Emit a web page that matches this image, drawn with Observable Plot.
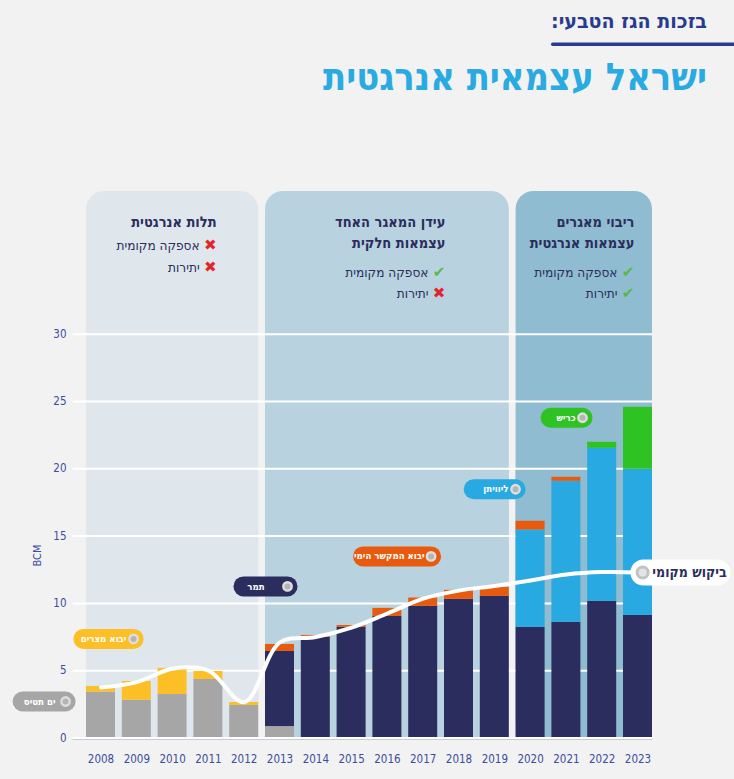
<!DOCTYPE html>
<html lang="he">
<head>
<meta charset="utf-8">
<script src="https://cdn.jsdelivr.net/npm/d3@7"></script>
<script src="https://cdn.jsdelivr.net/npm/@observablehq/plot@0.6"></script>
<style>
  html, body { margin: 0; padding: 0; background: #f2f2f2; }
  #page { width: 734px; height: 779px; position: relative; overflow: hidden; background: #f2f2f2; }
  #header { display: block; }
  #chart svg { display: block; overflow: visible; }
  g[aria-label="pill"] path { filter: drop-shadow(0 1.5px 1.5px rgba(0,0,0,0.28)); }
  g[aria-label="demand pill"] path { filter: drop-shadow(0 1.5px 3px rgba(0,0,0,0.3)); }
</style>
</head>
<body>
<div id="page">
  <svg id="header" width="734" height="110">
    <text x="707" y="28" direction="rtl" text-anchor="start" fill="#283b8f" font-size="20" font-weight="bold"
          font-family="'DejaVu Sans Condensed','DejaVu Sans',sans-serif"
          textLength="156" lengthAdjust="spacingAndGlyphs">בזכות הגז הטבעי:</text>
    <rect x="551" y="42.5" width="190" height="3.5" rx="1.75" fill="#283b8f"></rect>
    <text x="707" y="90" direction="rtl" text-anchor="start" fill="#29abe2" font-size="38" font-weight="bold"
          font-family="'DejaVu Sans Condensed','DejaVu Sans',sans-serif"
          textLength="384" lengthAdjust="spacingAndGlyphs">ישראל עצמאית אנרגטית</text>
  </svg>
  <div id="chart"></div>
</div>
<script>
// Natural gas supply to the local market by source, BCM per year
const years = [2008, 2009, 2010, 2011, 2012, 2013, 2014, 2015, 2016, 2017, 2018, 2019, 2020, 2021, 2022, 2023];
const yamTethys   = [3.41, 2.81, 3.23, 4.35, 2.42, 0.85, 0, 0, 0, 0, 0, 0, 0, 0, 0, 0];
const tamar       = [0, 0, 0, 0, 0, 5.58, 7.47, 8.22, 9.03, 9.78, 10.30, 10.52, 8.22, 8.59, 10.15, 9.11];
const leviathan   = [0, 0, 0, 0, 0, 0, 0, 0, 0, 0, 0, 0, 7.23, 10.48, 11.37, 10.85];
const egyptImport = [0.42, 1.39, 1.94, 0.59, 0.22, 0, 0, 0, 0, 0, 0, 0, 0, 0, 0, 0];
const lngImport   = [0, 0, 0, 0, 0, 0.52, 0.15, 0.14, 0.60, 0.62, 0.67, 0.67, 0.65, 0.30, 0, 0];
const karish      = [0, 0, 0, 0, 0, 0, 0, 0, 0, 0, 0, 0, 0, 0, 0.45, 4.61];
// Local demand
const demand      = [3.75, 4.15, 5.15, 5.00, 2.66, 7.10, 7.50, 8.20, 9.25, 10.35, 10.95, 11.30, 11.70, 12.15, 12.33, 12.30];

const seriesNames  = ["ים תטיס", "תמר", "ליוויתן", "יבוא מצרים", "יבוא המקשר הימי", "כריש"];
const seriesValues = [yamTethys, tamar, leviathan, egyptImport, lngImport, karish];
const seriesColors = ["#a6a6a6", "#2c2d5f", "#29a9e1", "#fcbf26", "#e85a0e", "#2fc223"];
const demandLabel  = "ביקוש מקומי";
const yTicks = [0, 5, 10, 15, 20, 25, 30];

// Three eras of the gas market
const eraFrom   = [2008, 2013, 2020];
const eraTo     = [2013, 2020, 2024];
const eraTitles = [["תלות אנרגטית"], ["עידן המאגר האחד", "עצמאות חלקית"], ["ריבוי מאגרים", "עצמאות אנרגטית"]];
const eraSupply = [false, true, true];   // אספקה מקומית
const eraBackup = [false, false, true];  // יתירות

// ---- tidy rows for the library ----
const rows = [];
seriesValues.forEach((vals, s) => vals.forEach((v, i) => {
  if (v > 0) rows.push({year: years[i], series: seriesNames[s], value: v});
}));
const demandRows = years.map((year, i) => ({year, value: demand[i]}));

// ---- layout ----
const FONT = "'Liberation Sans Narrow','DejaVu Sans Condensed','DejaVu Sans',sans-serif";
const NAVY = "#2b2d5c";
const AXIS = "#3a4d9f";
const eraFill = ["#dfe7ed", "#b8d3df", "#8fbcd0"];
const eraTextX = [2011.73, 2018.12, 2023.40];
const TOP = 40.6;

// series tags placed next to their bars
const pills = [
  {series: "ים תטיס",          x1: 2006.31, x2: 2007.51, tx: 2007.23, y: 2.71},
  {series: "יבוא מצרים",       x1: 2008.01, x2: 2009.41, tx: 2009.21, y: 7.36},
  {series: "תמר",              x1: 2012.48, x2: 2013.71, tx: 2013.07, y: 11.26},
  {series: "יבוא המקשר הימי",  x1: 2015.82, x2: 2017.72, tx: 2017.54, y: 13.49},
  {series: "ליוויתן",          x1: 2018.91, x2: 2020.08, tx: 2019.88, y: 18.48},
  {series: "כריש",             x1: 2021.06, x2: 2021.95, tx: 2021.76, y: 23.79}
];
const demandPill = [{x1: 2023.65, x2: 2025.72, cx: 2023.63, tx: 2023.90, y: demand[demand.length - 1]}];

const eraMarks = [];
eraFrom.forEach((from, k) => {
  const d = [{from, to: eraTo[k]}];
  eraMarks.push(
    Plot.rect(d, {x1: "from", x2: "to", y1: 0, y2: TOP, rx: 18, fill: eraFill[k], insetLeft: 3.4, insetRight: 3.4}),
    Plot.rect(d, {x1: "from", x2: "to", y1: 0, y2: 20, fill: eraFill[k], insetLeft: 3.4, insetRight: 3.4})
  );
});

// era headings and status lines
const eraLines = [];
const eraIcons = [];
const headY = [38.30, 36.74];
eraTitles.forEach((lines, k) => {
  lines.forEach((t, j) => eraLines.push({x: eraTextX[k], y: headY[j], text: t, bold: true}));
  const y1 = lines.length === 1 ? 36.59 : 34.58;
  const y2 = lines.length === 1 ? 34.96 : 33.02;
  eraLines.push({x: eraTextX[k], y: y1, text: "אספקה מקומית", bold: false});
  eraLines.push({x: eraTextX[k], y: y2, text: "יתירות", bold: false});
  eraIcons.push({x: eraTextX[k], y: y1, ok: eraSupply[k]});
  eraIcons.push({x: eraTextX[k], y: y2, ok: eraBackup[k]});
});

const chart = Plot.plot({
  width: 734,
  height: 669,
  marginLeft: 82.6,
  marginRight: 78.6,
  marginTop: 81,
  marginBottom: 41.5,
  style: {background: "transparent", fontFamily: FONT, overflow: "visible"},
  x: {type: "linear", domain: [2008, 2024], axis: null},
  y: {domain: [0, TOP], axis: null},
  color: {domain: seriesNames, range: seriesColors},
  marks: [
    ...eraMarks,
    Plot.ruleY(yTicks.slice(1), {stroke: "white", strokeWidth: 2, insetLeft: -10, insetRight: 3.4}),
    Plot.rectY(rows, {x: "year", interval: 1, y: "value", fill: "series", order: seriesNames, insetLeft: 3.4, insetRight: 3.4}),
    Plot.ruleY([0], {stroke: "white", strokeWidth: 2, insetLeft: -10, insetRight: 3.4}),
    Plot.ruleY([0], {stroke: "#c9cad8", strokeWidth: 1, dy: 1.5, insetLeft: -10, insetRight: 3.4}),
    Plot.line(demandRows, {x: d => d.year + 0.5, y: "value", stroke: "white", strokeWidth: 4, curve: "catmull-rom"}),
    // series tags
    Plot.link(pills, {x1: "x1", x2: "x2", y1: "y", y2: "y", stroke: "series", strokeWidth: 20, strokeLinecap: "round", ariaLabel: "pill"}),
    Plot.dot(pills, {x: "x2", y: "y", r: 4.2, fill: "#b5b5b5", stroke: "#dedede", strokeWidth: 2.4}),
    Plot.text(pills, {x: "tx", y: "y", text: "series", fill: "white", fontSize: 9.6, fontWeight: "bold", textAnchor: "end"}),
    // demand tag
    Plot.link(demandPill, {x1: "x1", x2: "x2", y1: "y", y2: "y", stroke: "white", strokeWidth: 26, strokeLinecap: "round", ariaLabel: "demand pill"}),
    Plot.dot(demandPill, {x: "cx", y: "y", r: 5.5, fill: "#e4e4e4", stroke: "#c2c2c2", strokeWidth: 3}),
    Plot.text(demandPill, {x: "tx", y: "y", text: () => demandLabel, fill: NAVY, fontSize: 14, fontWeight: "bold", textAnchor: "start"}),
    // era headings
    Plot.text(eraLines.filter(d => d.bold), {x: "x", y: "y", text: "text", fill: NAVY, fontSize: 14.5, fontWeight: "bold", textAnchor: "end"}),
    Plot.text(eraLines.filter(d => !d.bold), {x: "x", y: "y", text: "text", fill: NAVY, fontSize: 13.5, fontWeight: 500, textAnchor: "end", dx: -17}),
    Plot.text(eraIcons, {x: "x", y: "y", text: d => d.ok ? "✔" : "✖", fill: d => d.ok ? "#5ab946" : "#e3262c", fontSize: 15, fontWeight: "bold", textAnchor: "end", fontFamily: "'DejaVu Sans',sans-serif"}),
    // axes
    Plot.text(yTicks, {x: 2008, y: d => d, text: d => String(d), dx: -16.6, textAnchor: "end", fill: AXIS, fontSize: 11.5}),
    Plot.text(years, {x: d => d + 0.5, y: 0, text: d => String(d), dy: 21.5, fill: AXIS, fontSize: 11.5}),
    Plot.text(["BCM"], {x: 2008, y: 13.56, text: d => d, dx: -45.6, rotate: -90, fill: AXIS, fontSize: 11})
  ]
});

document.getElementById("chart").appendChild(chart);
</script>
</body>
</html>
